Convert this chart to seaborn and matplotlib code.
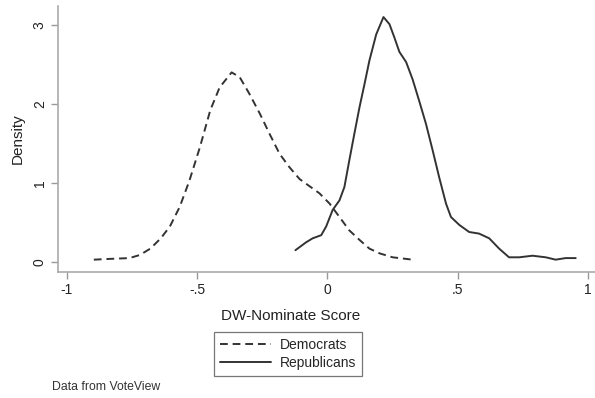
import matplotlib
matplotlib.use("Agg")
import matplotlib.pyplot as plt
import seaborn as sns
import pandas as pd

# Democrats density curve (DW-Nominate score, density)
dem_x = [-0.897, -0.835, -0.76, -0.72, -0.68, -0.64, -0.605, -0.567, -0.53, -0.49,
         -0.45, -0.414, -0.368, -0.337, -0.30, -0.26, -0.222, -0.184, -0.146, -0.107,
         -0.031, 0.008, 0.046, 0.084, 0.123, 0.161, 0.20, 0.25, 0.327]
dem_y = [0.03, 0.04, 0.05, 0.09, 0.17, 0.30, 0.45, 0.70, 1.03, 1.45,
         1.92, 2.21, 2.40, 2.34, 2.13, 1.88, 1.62, 1.37, 1.20, 1.05,
         0.87, 0.74, 0.57, 0.40, 0.28, 0.17, 0.11, 0.06, 0.03]

# Republicans density curve
rep_x = [-0.123, -0.082, -0.057, -0.024, -0.005, 0.02, 0.046, 0.065, 0.084, 0.103,
         0.123, 0.142, 0.161, 0.187, 0.215, 0.238, 0.257, 0.276, 0.302, 0.327,
         0.352, 0.378, 0.404, 0.429, 0.455, 0.474, 0.506, 0.544, 0.582, 0.621,
         0.659, 0.697, 0.736, 0.787, 0.838, 0.876, 0.914, 0.953]
rep_y = [0.15, 0.25, 0.30, 0.34, 0.45, 0.66, 0.78, 0.95, 1.29, 1.62,
         1.96, 2.25, 2.55, 2.88, 3.10, 3.01, 2.84, 2.66, 2.53, 2.31,
         2.04, 1.75, 1.41, 1.07, 0.74, 0.57, 0.47, 0.38, 0.36, 0.30,
         0.17, 0.06, 0.06, 0.08, 0.06, 0.03, 0.05, 0.05]

x_ticks = [-1, -0.5, 0, 0.5, 1]
x_tick_labels = ["-1", "-.5", "0", ".5", "1"]
y_ticks = [0, 1, 2, 3]
y_tick_labels = ["0", "1", "2", "3"]

sns.set_style("white")
plt.rcParams["font.family"] = ["Liberation Sans", "DejaVu Sans"]

fig = plt.figure(figsize=(5.95, 3.98), dpi=100)
ax_left, ax_w = 58/595, 1 - 58/595
ax = fig.add_axes([ax_left, 1-272/398, ax_w, (272-6)/398])

line_color = "#333333"
dem_df = pd.DataFrame({"x": dem_x, "y": dem_y})
rep_df = pd.DataFrame({"x": rep_x, "y": rep_y})
sns.lineplot(data=dem_df, x="x", y="y", ax=ax, color=line_color, lw=1.4,
             linestyle=(0, (4, 2.5)), sort=False, label="Democrats", legend=False)
sns.lineplot(data=rep_df, x="x", y="y", ax=ax, color=line_color, lw=1.4,
             sort=False, label="Republicans", legend=False)

ax.set_xlim(-1.0345, 1.027)
ax.set_ylim(-0.126, 3.24)
ax.set_xticks(x_ticks)
ax.set_xticklabels(x_tick_labels)
ax.set_yticks(y_ticks)
ax.set_yticklabels(y_tick_labels, rotation=90, va="center")
ax.tick_params(axis="both", direction="out", length=5, width=1, color="#999999",
               labelsize=10, labelcolor="#222222", pad=3)
ax.tick_params(axis="x", bottom=True)
ax.tick_params(axis="y", left=True)
for s in ["top", "right"]:
    ax.spines[s].set_visible(False)
for s in ["left", "bottom"]:
    ax.spines[s].set_color("#aaaaaa")
    ax.spines[s].set_linewidth(1.2)

ax.set_xlabel("DW-Nominate Score", fontsize=11, color="#222222", labelpad=6)
ax.xaxis.set_label_coords((291/595 - ax_left) / ax_w, -0.14)
ax.set_ylabel("Density", fontsize=11, color="#222222", labelpad=6)

handles, labels = ax.get_legend_handles_labels()
leg = fig.legend(handles, labels, loc="center", bbox_to_anchor=(288/595, 1-354/398),
                 frameon=True, fancybox=False, fontsize=10, handlelength=3.7,
                 borderpad=0.45, labelspacing=0.3, handletextpad=0.6)
leg.get_frame().set_edgecolor("#555555")
leg.get_frame().set_linewidth(0.9)

fig.text(52/595, 1-387/398, "Data from VoteView", fontsize=8.8, color="#333333",
         va="center", ha="left")

fig.savefig("out.png", dpi=100)
